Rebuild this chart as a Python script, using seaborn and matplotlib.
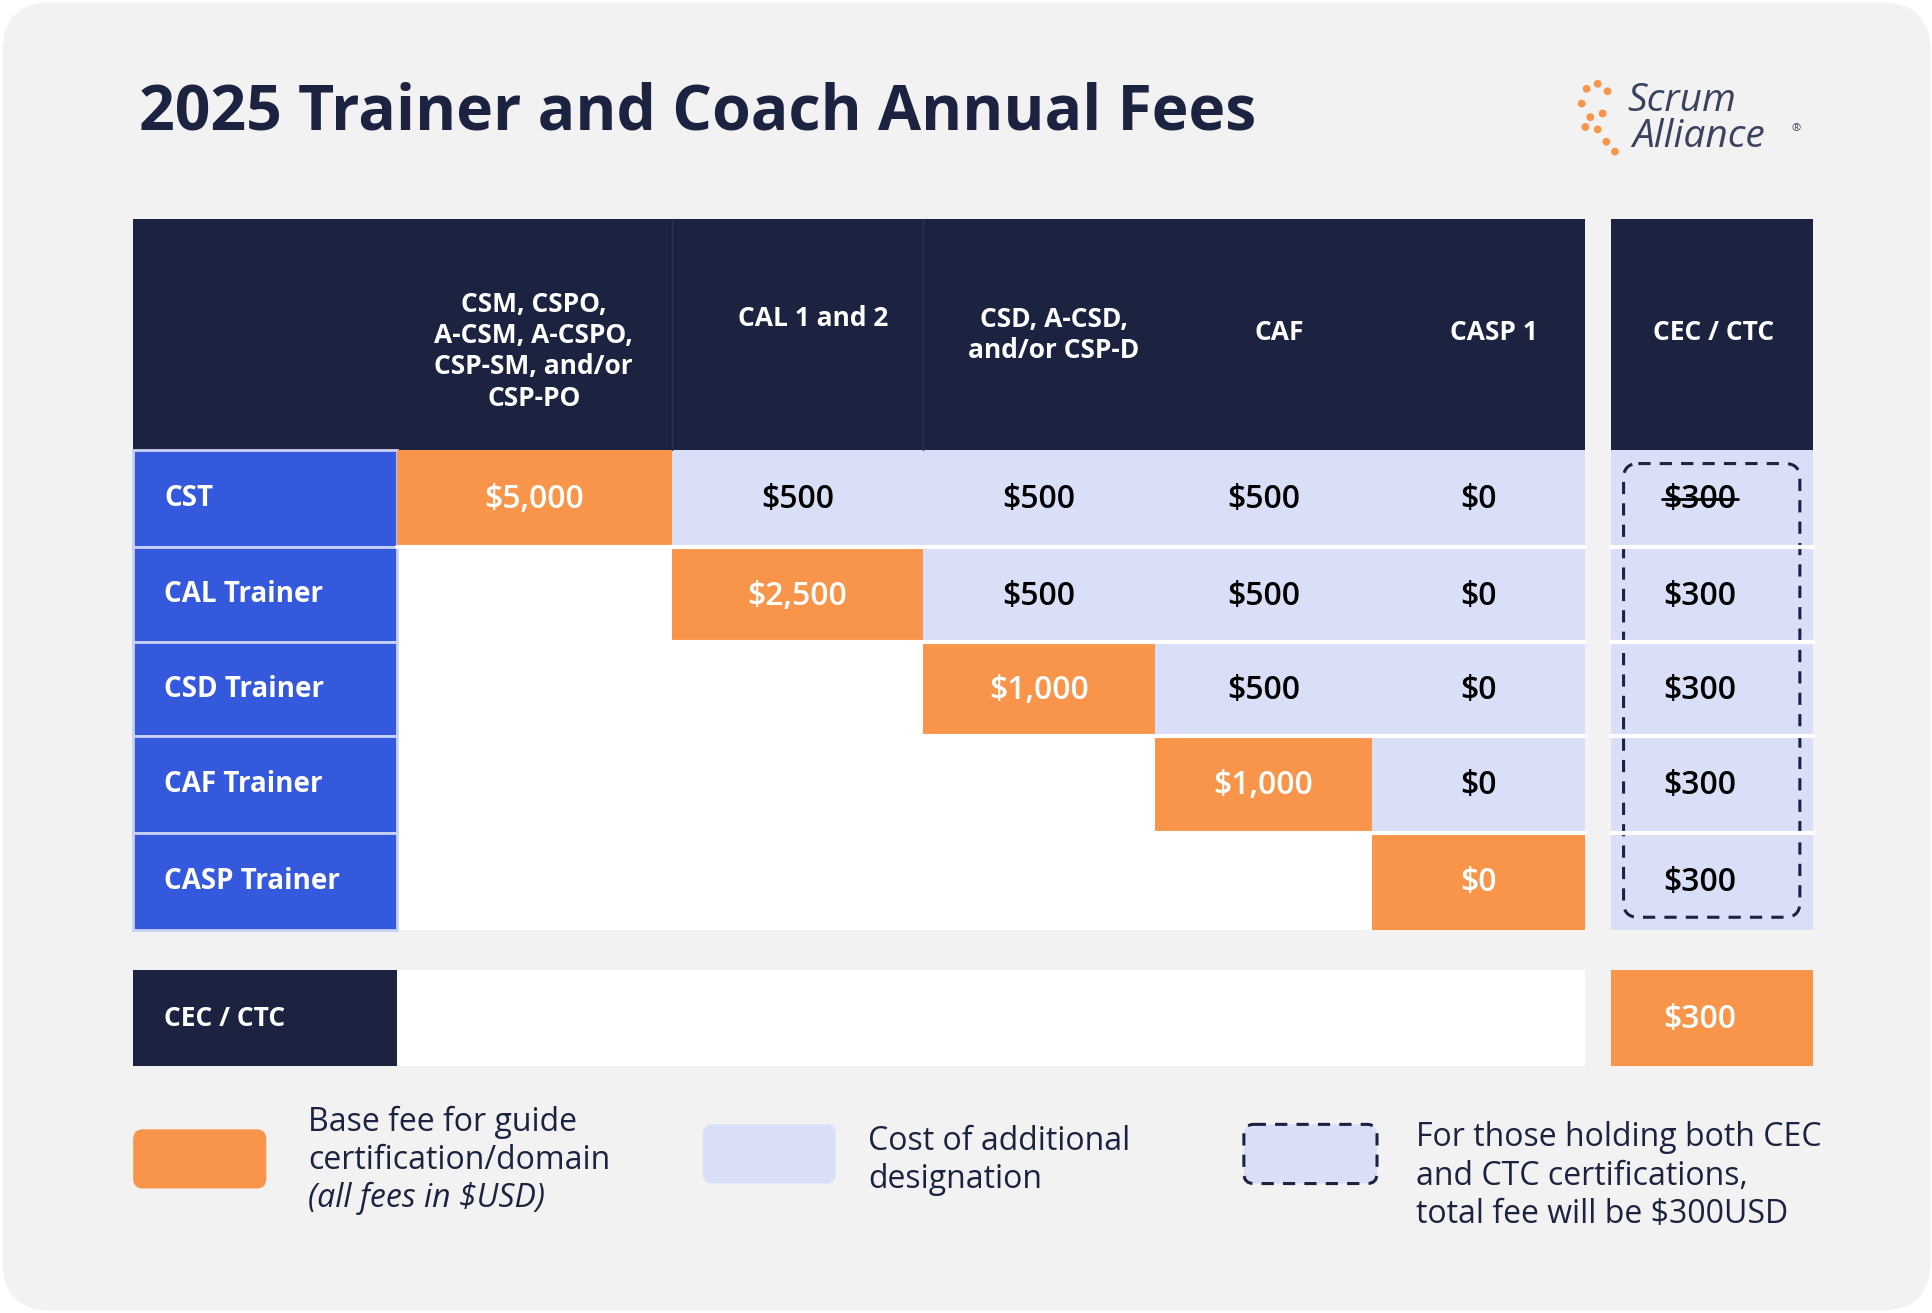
import matplotlib
matplotlib.use("Agg")
import matplotlib.pyplot as plt
import matplotlib.patches as mp
import seaborn as sns

sns.set_theme(style="white", font="Open Sans")

# data
title = "2025 Trainer and Coach Annual Fees"
col_labels = ["CSM, CSPO,\nA-CSM, A-CSPO,\nCSP-SM, and/or\nCSP-PO", "CAL 1 and 2",
              "CSD, A-CSD,\nand/or CSP-D", "CAF", "CASP 1"]
row_labels = ["CST", "CAL Trainer", "CSD Trainer", "CAF Trainer", "CASP Trainer"]
base_col = [0, 1, 2, 3, 4]
fees = [
    [5000, 500, 500, 500, 0],
    [None, 2500, 500, 500, 0],
    [None, None, 1000, 500, 0],
    [None, None, None, 1000, 0],
    [None, None, None, None, 0],
]
cec_fee = [300, 300, 300, 300, 300]
cec_alone = 300

NAVY = "#1b2340"
BLUE = "#3559dd"
LAV = "#d9dff7"
ORANGE = "#f9954a"
BG = "#f2f2f2"

fig = plt.figure(figsize=(19.33, 13.13), dpi=100)
ax = fig.add_axes([0, 0, 1, 1])
ax.set_xlim(0, 1568)
ax.set_ylim(1065, 0)
ax.axis("off")
fig.patch.set_facecolor("white")
ax.add_patch(mp.FancyBboxPatch((2, 2), 1564, 1061, boxstyle="round,pad=0,rounding_size=40",
                               fc=BG, ec="none"))

ax.text(113, 92, title, fontsize=45, fontweight="bold", color=NAVY, va="center", ha="left")
# logo (approximation)
ax.text(1320, 82, "Scrum", fontsize=28, style="italic", color="#3a4260", va="center")
ax.text(1324, 111, "Alliance", fontsize=28, style="italic", color="#3a4260", va="center")
ax.text(1453, 106, "®", fontsize=8, color="#3a4260")
for (dx, dy) in [(1287, 72), (1296, 68), (1304, 74), (1283, 84), (1290, 95), (1300, 92),
                 (1296, 105), (1303, 115), (1310, 123), (1286, 103)]:
    ax.add_patch(mp.Circle((dx, dy), 2.6, color=ORANGE))

xs = [108, 322, 545, 749, 937, 1113, 1286]
rx0, rx1 = 1307, 1471
ys = [365, 444, 521, 597, 676, 754]

# header
ax.add_patch(mp.Rectangle((108, 178), 1286 - 108, 365 - 178, fc=NAVY, ec="none"))
ax.add_patch(mp.Rectangle((rx0, 178), rx1 - rx0, 365 - 178, fc=NAVY, ec="none"))
for x in xs[2:4]:
    ax.plot([x, x], [178, 365], color="#2a3352", lw=1)
hx = [433, 660, 855, 1038, 1212]
hy = [285, 258, 272, 270, 270]
for x, y, lab in zip(hx, hy, col_labels):
    ax.text(x, y, lab, color="white", fontsize=19, fontweight="bold", ha="center", va="center",
            linespacing=1.2)
ax.text(1390, 270, "CEC / CTC", color="white", fontsize=19, fontweight="bold", ha="center", va="center")

# body
ax.add_patch(mp.Rectangle((322, 365), 964, 389, fc="white", ec="none"))
for i, lab in enumerate(row_labels):
    y0, y1 = ys[i], ys[i + 1]
    yc = (y0 + y1) / 2
    ax.add_patch(mp.Rectangle((108, y0), 214, y1 - y0, fc=BLUE, ec="#c9d2f5", lw=2))
    ax.text(133, yc, lab, color="white", fontsize=20, fontweight="bold", va="center")
    for j, v in enumerate(fees[i]):
        if v is None:
            continue
        base = j == base_col[i]
        ax.add_patch(mp.Rectangle((xs[j + 1], y0), xs[j + 2] - xs[j + 1], y1 - y0,
                                  fc=ORANGE if base else LAV, ec="none"))
        ax.text((xs[j + 1] + xs[j + 2]) / 2, yc + 1, f"${v:,}",
                color="white" if base else "black", fontsize=23, fontweight="semibold",
                ha="center", va="center")
    ax.add_patch(mp.Rectangle((rx0, y0), rx1 - rx0, y1 - y0, fc=LAV, ec="none"))
    ax.text(1379, yc + 1, f"${cec_fee[i]:,}", color="black", fontsize=23, fontweight="semibold",
            ha="center", va="center")
    if i < len(row_labels) - 1:
        ax.plot([xs[1] if i == 0 else xs[base_col[i] + 1], 1286], [y1, y1], color="white", lw=3)
        ax.plot([rx0, rx1], [y1, y1], color="white", lw=3)
# strike through first CEC fee
ax.plot([1348, 1410], [405, 405], color="black", lw=2)
ax.add_patch(mp.FancyBboxPatch((1317, 376), 143, 368, boxstyle="round,pad=0,rounding_size=12",
                               fc="none", ec=NAVY, lw=2.2, ls=(0, (4, 3))))

# CEC / CTC row
ax.add_patch(mp.Rectangle((108, 787), 214, 78, fc=NAVY, ec="none"))
ax.text(133, 826, "CEC / CTC", color="white", fontsize=19, fontweight="bold", va="center")
ax.add_patch(mp.Rectangle((322, 787), 964, 78, fc="white", ec="none"))
ax.add_patch(mp.Rectangle((rx0, 787), rx1 - rx0, 78, fc=ORANGE, ec="none"))
ax.text(1379, 827, f"${cec_alone:,}", color="white", fontsize=23, fontweight="semibold",
        ha="center", va="center")

# legend
fs = 23
ax.add_patch(mp.FancyBboxPatch((108, 916), 108, 48, boxstyle="round,pad=0,rounding_size=8",
                               fc=ORANGE, ec="none"))
ax.text(250, 910, "Base fee for guide", fontsize=fs, color=NAVY, va="center")
ax.text(250, 941, "certification/domain", fontsize=fs, color=NAVY, va="center")
ax.text(250, 972, "(all fees in $USD)", fontsize=fs, color=NAVY, va="center", style="italic")
ax.add_patch(mp.FancyBboxPatch((570, 912), 108, 48, boxstyle="round,pad=0,rounding_size=8",
                               fc=LAV, ec="none"))
ax.text(704, 926, "Cost of additional", fontsize=fs, color=NAVY, va="center")
ax.text(704, 957, "designation", fontsize=fs, color=NAVY, va="center")
ax.add_patch(mp.FancyBboxPatch((1009, 912), 108, 48, boxstyle="round,pad=0,rounding_size=8",
                               fc=LAV, ec=NAVY, lw=2.2, ls=(0, (4, 3))))
for k, t in enumerate(["For those holding both CEC", "and CTC certifications,",
                       "total fee will be $300USD"]):
    ax.text(1149, 923 + 31 * k, t, fontsize=fs, color=NAVY, va="center")

fig.savefig("out.png", dpi=100)
